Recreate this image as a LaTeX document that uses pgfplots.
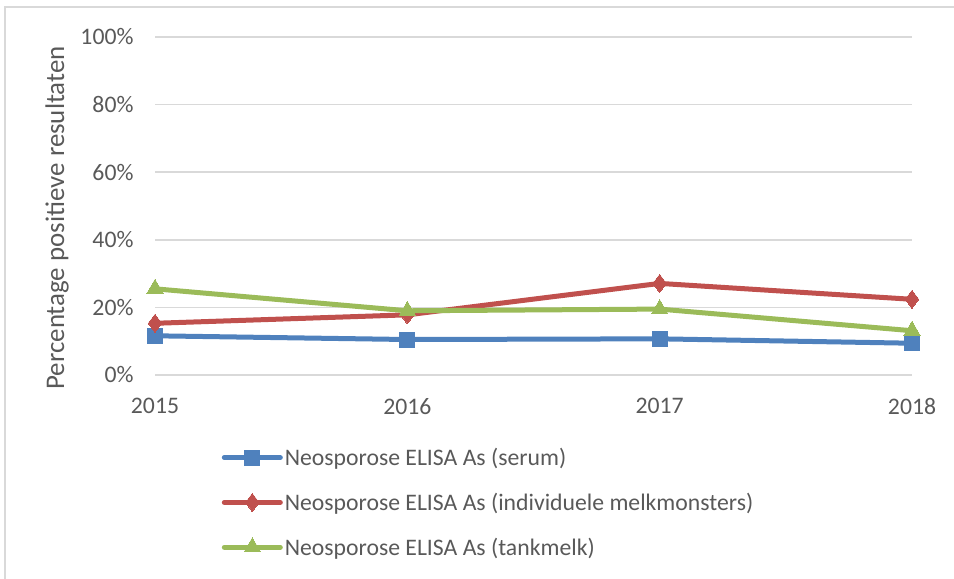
\documentclass[border=0pt]{standalone}
\usepackage{pgfplots}
\pgfplotsset{compat=1.18}
\usepackage{fontspec}
\setmainfont{Carlito}
\definecolor{txt}{HTML}{595959}
\definecolor{gridgray}{HTML}{D9D9D9}
\definecolor{sblue}{HTML}{4F81BD}
\definecolor{sred}{HTML}{C0504D}
\definecolor{sgreen}{HTML}{9BBB59}
\begin{document}
\begin{tikzpicture}[x=1bp,y=1bp]
\path[use as bounding box] (0,0) rectangle (954,-579);
\draw[gridgray,line width=1.2bp] (5,-579) -- (5,-7) -- (954,-7);
\begin{axis}[
  at={(155bp,-375bp)}, anchor=south west,
  scale only axis, width=757bp, height=338bp,
  xmin=2015, xmax=2018, ymin=0, ymax=100,
  xtick={2015,2016,2017,2018},
  xticklabels={2015,2016,2017,2018},
  ytick={0,20,40,60,80,100},
  yticklabels={0\%,20\%,40\%,60\%,80\%,100\%},
  axis line style={draw=none},
  major tick length=0pt,
  xmajorgrids=false,
  ymajorgrids=true, grid style={gridgray,line width=1.5bp},
  ticklabel style={font=\fontsize{23.8}{27}\selectfont, text=txt},
  xticklabel style={yshift=-20bp},
  yticklabel style={xshift=-18bp},
  ylabel={Percentage positieve resultaten},
  ylabel style={font=\fontsize{27}{30}\selectfont, text=txt, at={([xshift=-98bp]rel axis cs:0,0.465)}, anchor=center},
  clip=false,
  legend style={at={(rel axis cs:0.088,-0.21)}, anchor=north west, draw=none, fill=none,
    font=\fontsize{23.8}{27}\selectfont, text=txt, row sep=22bp, inner xsep=0pt, inner ysep=0pt,
    nodes={inner xsep=2bp}},
  legend cell align=left,
  legend image code/.code={
    \draw[#1, line cap=round, mark repeat=2, mark phase=2] plot coordinates {(0bp,0bp) (28bp,0bp) (56bp,0bp)};
  },
  every axis plot/.append style={line width=5bp, line join=round},
]
\addplot[sblue, mark=square*, mark size=7.5bp, mark options={line width=0pt}] coordinates {(2015,11.6) (2016,10.5) (2017,10.7) (2018,9.4)};
\addlegendentry{Neosporose ELISA As (serum)}
\addplot[sred, mark=diamond*, mark size=9bp, mark options={line width=0pt}] coordinates {(2015,15.3) (2016,17.8) (2017,27.1) (2018,22.4)};
\addlegendentry{Neosporose ELISA As (individuele melkmonsters)}
\addplot[sgreen, mark=triangle*, mark size=9.5bp, mark options={line width=0pt}] coordinates {(2015,25.5) (2016,19.0) (2017,19.5) (2018,13.1)};
\addlegendentry{Neosporose ELISA As (tankmelk)}
\end{axis}
\end{tikzpicture}
\end{document}
